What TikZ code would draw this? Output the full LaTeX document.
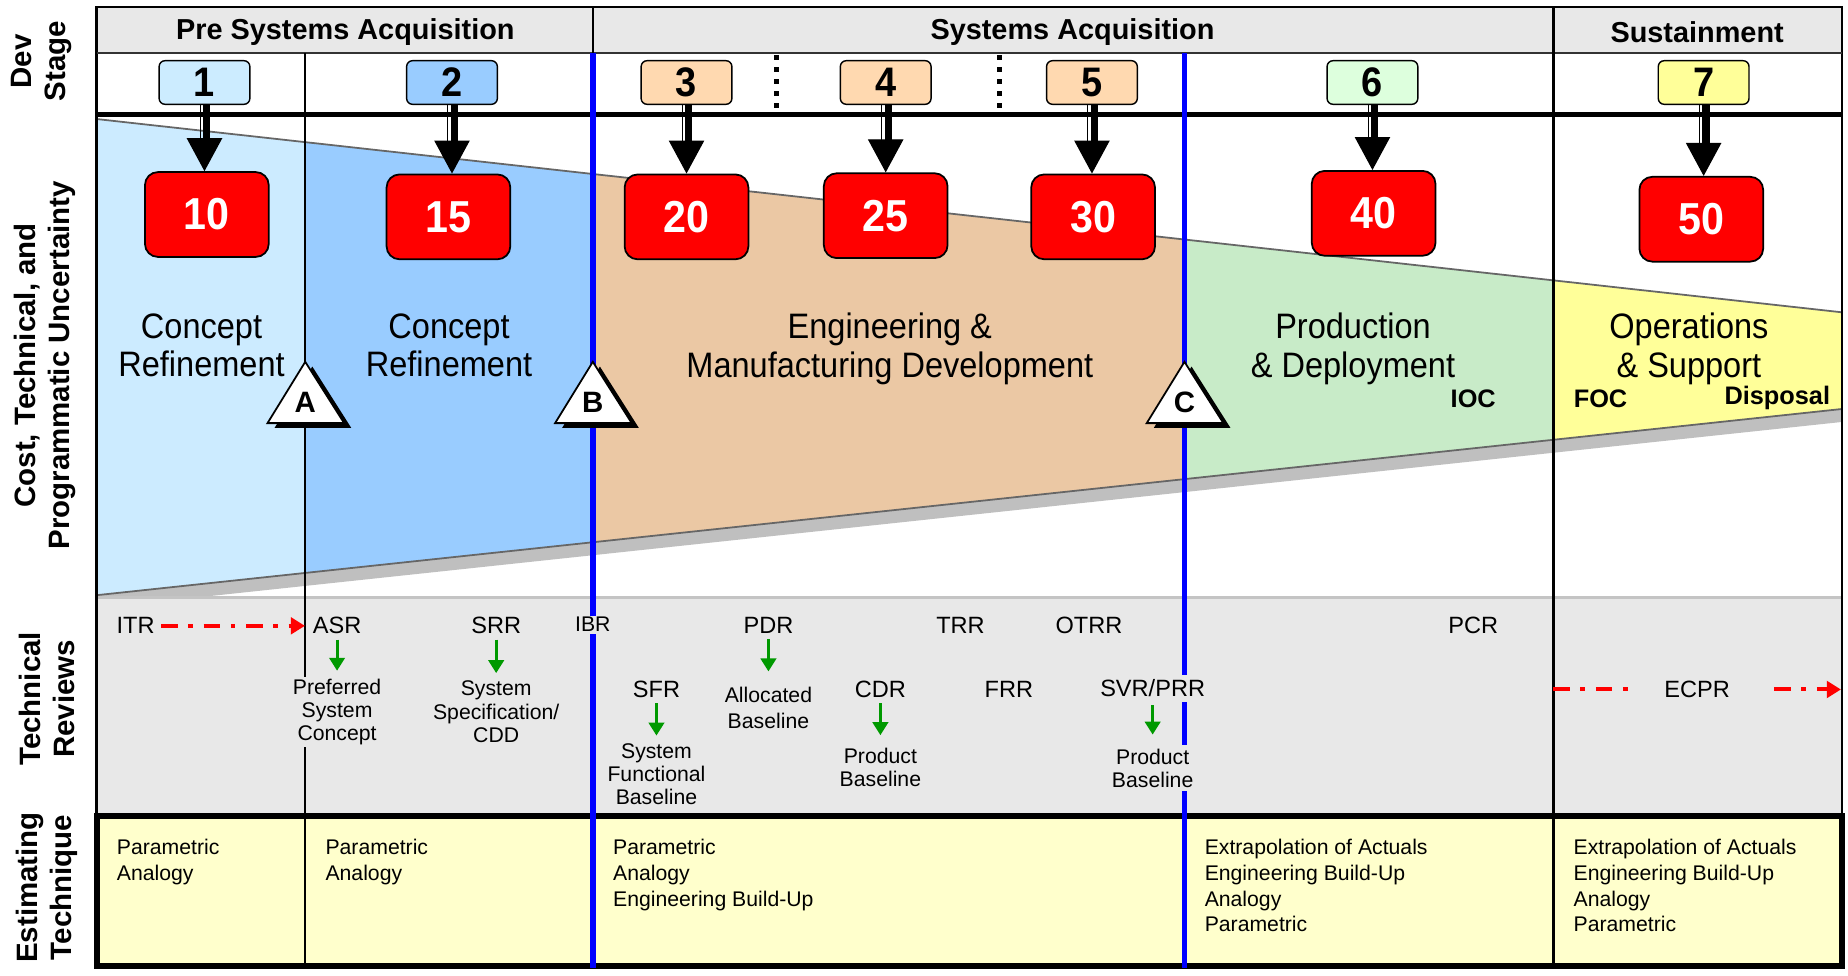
\documentclass[tikz,border=0pt]{standalone}
\usepackage{fontspec}
\setmainfont{Liberation Sans}
\newfontfamily\condf[FakeStretch=0.92]{Liberation Sans}
\usetikzlibrary{arrows.meta}
\newcommand{\fsz}[2]{\fontsize{#1}{#2}\selectfont}
\definecolor{hdrgray}{HTML}{E8E8E8}
\definecolor{revbg}{HTML}{E8E8E8}
\definecolor{estbg}{HTML}{FFFFCC}
\definecolor{sA}{HTML}{CCECFF}
\definecolor{sB}{HTML}{99CCFF}
\definecolor{sC}{HTML}{FFD9B0}
\definecolor{sD}{HTML}{DDFFDD}
\definecolor{sE}{HTML}{FFFF99}
\definecolor{cA}{HTML}{CCEBFF}
\definecolor{cB}{HTML}{99CCFF}
\definecolor{cC}{HTML}{EBC8A4}
\definecolor{cD}{HTML}{C8EBC8}
\definecolor{cE}{HTML}{FFFF99}
\definecolor{boxred}{HTML}{FF0000}
\definecolor{shadowgray}{HTML}{BFBFBF}
\definecolor{conegray}{HTML}{666666}
\definecolor{garrowc}{HTML}{009900}
\definecolor{toplinegray}{HTML}{C4C4C4}
\begin{document}
\begin{tikzpicture}[x=1pt,y=-1pt,
  stagebox/.style={draw=black, line width=1.2pt, rounded corners=5pt, minimum width=77pt, minimum height=37pt, inner sep=0pt, font=\condf\bfseries\fsz{35}{35}},
  redbox/.style={draw=black, line width=1.5pt, rounded corners=11pt, fill=boxred, minimum width=105pt, minimum height=72pt, inner sep=0pt, text=white, font=\condf\bfseries\fsz{38}{38}},
  arrowhead/.style={line width=1pt, -{Triangle[length=28pt,width=30pt]}},
  thickshaft/.style={line width=6pt, shorten >=26pt},
  thinshaft/.style={line width=1.2pt, shorten >=26pt},
  hdr/.style={font=\bfseries\fsz{24.5}{28}, inner sep=0pt},
  sidelbl/.style={font=\bfseries\fsz{25}{29}, align=center, inner sep=0pt, rotate=90},
  conelbl/.style={font=\condf\fsz{30}{33}, align=center, inner sep=0pt},
  milelbl/.style={font=\bfseries\fsz{21.5}{24}, inner sep=0pt},
  trilabel/.style={font=\bfseries\fsz{25}{25}, inner sep=0pt},
  rev/.style={font=\fsz{20}{22}, inner sep=1.5pt},
  revs/.style={font=\fsz{18}{20}, inner sep=1.5pt},
  desc/.style={font=\fsz{18}{19.8}, align=center, inner sep=1.5pt},
  est/.style={font=\fsz{18}{22}, align=left, anchor=north west, inner sep=0pt},
  garrow/.style={garrowc, line width=2.6pt, shorten <=3pt, -{Triangle[length=11pt,width=13pt]}},
  reddash/.style={red, line width=3.4pt, dash pattern=on 14pt off 9pt on 4pt off 9pt},
  dotsep/.style={black, line width=4.2pt, dash pattern=on 4.2pt off 6pt},
  vline/.style={black, line width=2pt},
  blueline/.style={blue, line width=5pt},
]
\useasboundingbox (0,0) rectangle (1568,828);
\fill[white] (0,0) rectangle (1568,828);

% header
\fill[hdrgray] (82,6) rectangle (1563,45);

% cone
\coordinate (TL) at (82,101);
\coordinate (TR) at (1563,265);
\coordinate (BR) at (1563,347);
\coordinate (BL) at (82,505);
\fill[shadowgray] (82,505) -- (1563,347) -- (1563,358) -- (82,516) -- cycle;
\begin{scope}\clip (82,0) rectangle (259,828);
\fill[cA] (TL) -- (TR) -- (BR) -- (BL) -- cycle;\end{scope}
\begin{scope}\clip (259,0) rectangle (503,828);
\fill[cB] (TL) -- (TR) -- (BR) -- (BL) -- cycle;\end{scope}
\begin{scope}\clip (503,0) rectangle (1005,828);
\fill[cC] (TL) -- (TR) -- (BR) -- (BL) -- cycle;\end{scope}
\begin{scope}\clip (1005,0) rectangle (1318,828);
\fill[cD] (TL) -- (TR) -- (BR) -- (BL) -- cycle;\end{scope}
\begin{scope}\clip (1318,0) rectangle (1563,828);
\fill[cE] (TL) -- (TR) -- (BR) -- (BL) -- cycle;\end{scope}
\draw[conegray, line width=1.5pt] (TL) -- (TR);
\draw[conegray, line width=1.5pt] (BL) -- (BR);

% technical reviews background
\fill[revbg] (82,507) rectangle (1563,692);
\draw[toplinegray, line width=2pt] (82,507) -- (1563,507);
% estimating background
\fill[estbg] (82,692) rectangle (1563,820);

% frame and grid lines
\draw[black, line width=2pt] (82,6) rectangle (1563,820);
\draw[black!80, line width=1.5pt] (82,45) -- (1563,45);
\draw[vline] (503,6) -- (503,45);
\draw[vline] (1318,6) -- (1318,820);
\draw[vline] (259,45) -- (259,820);
\draw[black, line width=4pt] (82,97) -- (1563,97);
\draw[dotsep] (659,47) -- (659,94);
\draw[dotsep] (848,47) -- (848,94);
\draw[black, line width=5pt] (82,692) rectangle (1563,820);
\draw[blueline] (503,45) -- (503,821);
\draw[blueline] (1005,45) -- (1005,821);

% milestone triangles
\fill[black] (265,311) -- (298,363) -- (233,363) -- cycle;
\draw[fill=white, line width=1.5pt] (259,307) -- (292,359) -- (227,359) -- cycle;
\fill[black] (509,311) -- (542,363) -- (477,363) -- cycle;
\draw[fill=white, line width=1.5pt] (503,307) -- (536,359) -- (471,359) -- cycle;
\fill[black] (1011,311) -- (1044,363) -- (979,363) -- cycle;
\draw[fill=white, line width=1.5pt] (1005,307) -- (1038,359) -- (973,359) -- cycle;
\node[trilabel] (mA) at (259,341) {A};
\node[trilabel] (mB) at (503,341) {B};
\node[trilabel] (mC) at (1005,341) {C};

% header texts
\node[hdr] (h1) at (293,27) {Pre Systems Acquisition};
\node[hdr] (h2) at (910,27) {Systems Acquisition};
\node[hdr] (h3) at (1440,27) {Sustainment};

% side labels
\node[sidelbl] (lDev) at (35,52) {Dev\\Stage};
\node[sidelbl] (lCost) at (38,310) {Cost, Technical, and\\Programmatic Uncertainty};
\node[sidelbl] (lTech) at (40,593) {Technical\\Reviews};
\node[sidelbl] (lEst) at (40,753) {Estimating\\Technique};

% stage boxes
\node[stagebox, fill=sA] (s1) at (173.5,70) {1};
\node[stagebox, fill=sB] (s2) at (383.5,70) {2};
\node[stagebox, fill=sC] (s3) at (582.5,70) {3};
\node[stagebox, fill=sC] (s4) at (751.5,70) {4};
\node[stagebox, fill=sC] (s5) at (926.5,70) {5};
\node[stagebox, fill=sD] (s6) at (1164.5,70) {6};
\node[stagebox, fill=sE] (s7) at (1445.5,70) {7};

% red boxes
\node[redbox] (r1) at (175.5,182) {10};
\node[redbox] (r2) at (380.5,184) {15};
\node[redbox] (r3) at (582.5,184) {20};
\node[redbox] (r4) at (751.5,183) {25};
\node[redbox] (r5) at (927.5,184) {30};
\node[redbox] (r6) at (1165.5,181) {40};
\node[redbox] (r7) at (1443.5,186) {50};

\foreach \i in {1,...,7}{
  \draw[thickshaft] ([xshift=2pt]s\i.south) -- ([xshift=2pt]s\i.south |- r\i.north);
  \draw[thinshaft] ([xshift=-3.6pt]s\i.south) -- ([xshift=-3.6pt]s\i.south |- r\i.north);
  \draw[arrowhead] ([yshift=28pt]s\i.south |- r\i.north) -- (s\i.south |- r\i.north);
}

% cone labels
\node[conelbl] (t1) at (171,293) {Concept\\Refinement};
\node[conelbl] (t2) at (381,293) {Concept\\Refinement};
\node[conelbl] (t3) at (755,296) {Engineering \&\\Manufacturing Development};
\node[conelbl] (t4) at (1148,296) {Production\\\& Deployment};
\node[conelbl] (t5) at (1433,296) {Operations\\\& Support};
\node[milelbl] (ioc) at (1250,338) {IOC};
\node[milelbl] (foc) at (1358,338) {FOC};
\node[milelbl] (disp) at (1508,338) {Disposal};

% technical reviews
\node[rev] (itr) at (115,531) {ITR};
\node[rev] (asr) at (286,531) {ASR};
\node[rev] (srr) at (421,531) {SRR};
\node[revs, fill=revbg] (ibr) at (503,530) {IBR};
\node[rev] (pdr) at (652,531) {PDR};
\node[rev] (trr) at (815,531) {TRR};
\node[rev] (otrr) at (924,531) {OTRR};
\node[rev] (pcr) at (1250,531) {PCR};
\node[rev] (sfr) at (557,585) {SFR};
\node[rev] (cdr) at (747,585) {CDR};
\node[rev] (frr) at (856,585) {FRR};
\node[rev, fill=revbg, inner ysep=4pt] (svr) at (978,584) {SVR/PRR};
\node[rev] (ecpr) at (1440,585) {ECPR};
\node[desc, fill=revbg] (psc) at (286,604) {Preferred\\System\\Concept};
\node[desc] (ssc) at (421,604) {System\\Specification/\\CDD};
\node[desc] (sfb) at (557,657) {System\\Functional\\Baseline};
\node[desc, font=\fsz{18}{22}] (alb) at (652,601) {Allocated\\Baseline};
\node[desc] (pb1) at (747,651) {Product\\Baseline};
\node[desc, fill=revbg, inner ysep=3pt] (pb2) at (978,652) {Product\\Baseline};

\draw[garrow, shorten >=5pt] (asr.south) -- (asr.south |- psc.north);
\draw[garrow, shorten >=5pt] (srr.south) -- (srr.south |- ssc.north);
\draw[garrow, shorten >=12pt] (pdr.south) -- (pdr.south |- alb.north);
\draw[garrow, shorten >=5pt] (sfr.south) -- (sfr.south |- sfb.north);
\draw[garrow, shorten >=9pt] (cdr.south) -- (cdr.south |- pb1.north);
\draw[garrow, shorten >=9pt] (svr.south) -- (svr.south |- pb2.north);

\draw[reddash, shorten <=4pt, -{Triangle[length=12pt,width=14pt]}] (itr.east) -- ([xshift=-5pt]asr.west);
\coordinate (ecL) at (1318,585);
\coordinate (ecR) at (1562,585);
\draw[reddash] (ecL) -- ([xshift=-26pt]ecpr.west);
\draw[reddash, -{Triangle[length=12pt,width=14pt]}] ([xshift=36pt]ecpr.east) -- (ecR);

% estimating techniques
\node[est] (e1) at (99,711.5) {Parametric\\Analogy};
\node[est] (e2) at (276,711.5) {Parametric\\Analogy};
\node[est] (e3) at (520,711.5) {Parametric\\Analogy\\Engineering Build-Up};
\node[est] (e4) at (1022,711.5) {Extrapolation of Actuals\\Engineering Build-Up\\Analogy\\Parametric};
\node[est] (e5) at (1335,711.5) {Extrapolation of Actuals\\Engineering Build-Up\\Analogy\\Parametric};
\end{tikzpicture}
\end{document}
